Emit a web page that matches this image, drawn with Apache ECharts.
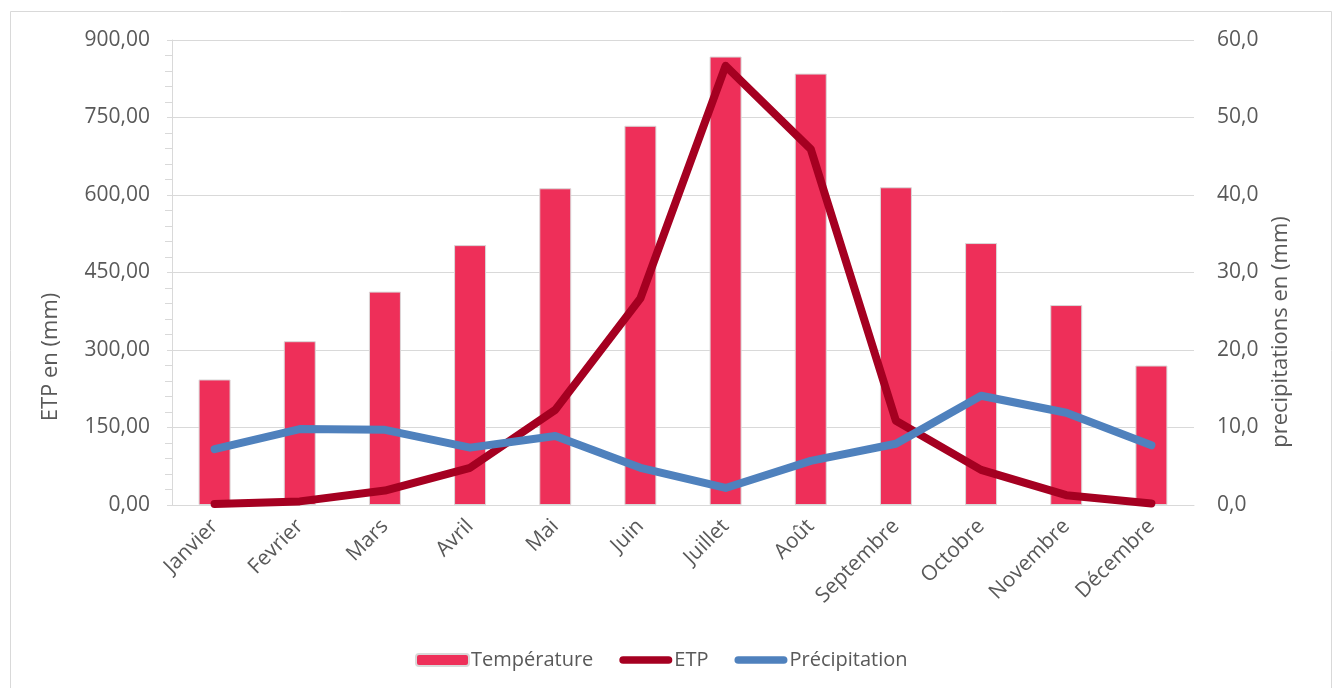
<!DOCTYPE html>
<html>
<head>
<meta charset="utf-8">
<script src="https://cdn.jsdelivr.net/npm/echarts@6/dist/echarts.min.js"></script>
<style>
  html, body { margin: 0; padding: 0; background: #fff; }
  #chart { width: 1339px; height: 688px; }
</style>
</head>
<body>
<div id="chart"></div>
<script>
// Monthly climate data
const months = ['Janvier', 'Fevrier', 'Mars', 'Avril', 'Mai', 'Juin', 'Juillet', 'Août', 'Septembre', 'Octobre', 'Novembre', 'Décembre'];
const temperature = [243, 317, 413, 503, 613, 734, 868, 835, 615, 507, 387, 270];
const etp = [2, 7, 28, 72, 184, 400, 850, 689, 163, 68, 19, 3];
const precipitation = [7.2, 9.8, 9.7, 7.4, 8.9, 4.8, 2.2, 5.7, 7.9, 14.1, 11.9, 7.7];

const FONT = '"Open Sans", "Noto Sans", sans-serif';
const TXT = '#595959';
const GRID = '#d9d9d9';

// thick rounded stroke used as legend icon for the line series
const LINE_ICON = 'path://M0,0M0,12M4,2L52,2A4,4,0,0,1,52,10L4,10A4,4,0,0,1,4,2Z';

const chart = echarts.init(document.getElementById('chart'), null, { renderer: 'canvas' });

const fmtComma = (d) => (v) => v.toFixed(d).replace('.', ',');

chart.setOption({
  animation: false,
  backgroundColor: '#ffffff',
  textStyle: { fontFamily: FONT },
  grid: { left: 172, right: 145, top: 40, bottom: 183, containLabel: false },
  legend: {
    left: 410,
    top: 645,
    itemWidth: 53,
    itemHeight: 12,
    itemGap: 26,
    textStyle: { color: TXT, fontSize: 20, fontFamily: FONT, padding: [0, 0, 0, -3] },
    data: [
      { name: 'Température' },
      { name: 'ETP', icon: LINE_ICON },
      { name: 'Précipitation', icon: LINE_ICON }
    ]
  },
  xAxis: {
    type: 'category',
    data: months,
    axisLine: { lineStyle: { color: GRID, width: 1 } },
    axisTick: { show: false },
    axisLabel: { rotate: 45, margin: 18, color: TXT, fontSize: 21, fontFamily: FONT, interval: 0 }
  },
  yAxis: [
    {
      type: 'value',
      position: 'left',
      min: 0, max: 900, interval: 150,
      axisLine: { show: true, lineStyle: { color: GRID, width: 1 } },
      axisTick: { show: true, length: 5, lineStyle: { color: GRID } },
      minorTick: { show: true, splitNumber: 5, length: 5, lineStyle: { color: GRID } },
      splitLine: { show: true, lineStyle: { color: GRID, width: 1 } },
      axisLabel: { margin: 22, color: TXT, fontSize: 21, fontFamily: FONT, formatter: fmtComma(2) }
    },
    {
      type: 'value',
      position: 'right',
      min: 0, max: 60, interval: 10,
      axisLine: { show: false },
      axisTick: { show: false },
      splitLine: { show: false },
      axisLabel: { margin: 23, color: TXT, fontSize: 21, fontFamily: FONT, formatter: fmtComma(1) }
    },
    {
      // inner half of the minor ticks on the left axis
      type: 'value',
      position: 'left',
      min: 0, max: 900, interval: 150,
      axisLine: { show: false },
      axisTick: { show: false },
      minorTick: { show: true, splitNumber: 5, length: 7, lineStyle: { color: GRID } },
      splitLine: { show: false },
      axisLabel: { show: false }
    }
  ],
  series: [
    {
      name: 'Température',
      type: 'bar',
      yAxisIndex: 0,
      data: temperature,
      barWidth: 32,
      itemStyle: { color: '#ee2f59', borderColor: GRID, borderWidth: 1 }
    },
    {
      name: 'ETP',
      type: 'line',
      yAxisIndex: 0,
      data: etp,
      symbol: 'none',
      color: '#a50021',
      lineStyle: { color: '#a50021', width: 8, cap: 'round', join: 'round' }
    },
    {
      name: 'Précipitation',
      type: 'line',
      yAxisIndex: 1,
      data: precipitation,
      symbol: 'none',
      color: '#4f81bd',
      lineStyle: { color: '#4f81bd', width: 8, cap: 'round', join: 'round' }
    }
  ],
  graphic: [
    {
      type: 'rect',
      silent: true,
      shape: { x: 10.5, y: 11.5, width: 1321, height: 700 },
      style: { fill: 'none', stroke: GRID, lineWidth: 1 }
    },
    {
      type: 'text',
      x: 51, y: 357,
      rotation: Math.PI / 2,
      style: { text: 'ETP en (mm)', fill: TXT, font: '22px ' + FONT, textAlign: 'center', textVerticalAlign: 'middle' }
    },
    {
      type: 'text',
      x: 1281, y: 332,
      rotation: Math.PI / 2,
      style: { text: 'precipitations en (mm)', fill: TXT, font: '22px ' + FONT, textAlign: 'center', textVerticalAlign: 'middle' }
    }
  ]
});
</script>
</body>
</html>
